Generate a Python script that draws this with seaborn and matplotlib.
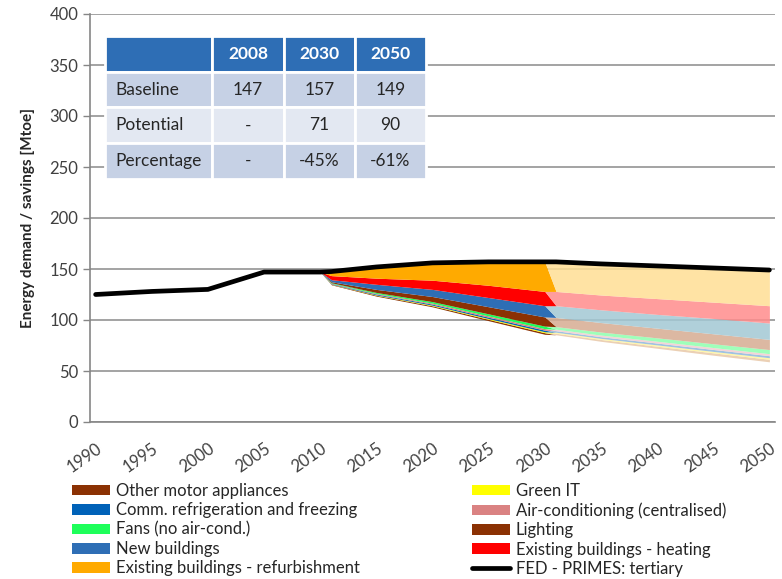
import numpy as np
import pandas as pd
import seaborn as sns
import matplotlib.pyplot as plt
from matplotlib.patches import Patch
from matplotlib.lines import Line2D
from matplotlib.colors import to_rgba

# FED - PRIMES: tertiary [Mtoe]
fed_years = [1990, 1995, 2000, 2005, 2008, 2010, 2011, 2015, 2020, 2025, 2030, 2031, 2035, 2040, 2045, 2050]
fed_values = [125, 128, 130, 147, 147, 147, 147.5, 152, 156, 157, 157, 157, 155, 153, 151, 149]

# savings stack (solid up to 2030, pale from 2031)
stack_years = [2010, 2011, 2015, 2020, 2025, 2030, 2031, 2035, 2040, 2045, 2050]
remaining = [147, 134.5, 123.4, 112.9, 99.3, 86, 85.5, 79.1, 72.3, 65.5, 59]
other_motor = [0, 0.5, 0.8, 1, 1.3, 1.5, 1.5, 1.8, 2, 2.3, 2.5]
green_it = [0, 0.2, 0.4, 0.6, 0.8, 1, 1, 1.1, 1.3, 1.4, 1.5]
comm_refrig = [0, 0.5, 0.8, 1, 1.3, 1.5, 1.5, 1.6, 1.8, 1.9, 2]
air_cond = [0, 0.3, 0.6, 1, 1.3, 1.5, 1.5, 1.6, 1.8, 1.9, 2]
fans = [0, 0.5, 1, 1.5, 2, 2.5, 2.5, 3, 3.3, 3.7, 4]
lighting = [0, 1, 3, 5, 7, 9, 9, 9.3, 9.5, 9.8, 10]
new_buildings = [0, 2, 5, 7, 9, 11, 11.5, 12.5, 13.5, 15, 16]
heating = [0, 4, 6, 9, 12, 14, 14, 14.5, 15.5, 16, 17]
refurbishment = [0, 4, 11, 17, 23, 29, 29, 30.5, 32, 33.5, 35]

# table values
table_years = ['2008', '2030', '2050']
row_labels = ['Baseline', 'Potential', 'Percentage']
baseline_row = ['147', '157', '149']
potential_row = ['-', '71', '90']
percent_row = ['-', '-45%', '-61%']

# name, values, solid colour, pale colour (after 2030)
measures = [
    ('Other motor appliances', other_motor, '#8B3103', '#E8C8A8'),
    ('Green IT', green_it, '#FFFF00', '#FFF59A'),
    ('Comm. refrigeration and freezing', comm_refrig, '#0062B8', '#8FB8DC'),
    ('Air-conditioning (centralised)', air_cond, '#DA8282', '#F2CDD0'),
    ('Fans (no air-cond.)', fans, '#1EFF5A', '#8EFFAE'),
    ('Lighting', lighting, '#8B3103', '#D6AC92'),
    ('New buildings', new_buildings, '#2E6EB5', '#A2C8D4'),
    ('Existing buildings - heating', heating, '#FF0000', '#FF8C8C'),
    ('Existing buildings - refurbishment', refurbishment, '#FFAA00', '#FFDF94'),
]

sns.set_style('white')
plt.rcParams['font.family'] = ['Lato', 'DejaVu Sans']

fig = plt.figure(figsize=(7.82, 5.79), dpi=100)
ax = fig.add_axes([90 / 782, 1 - 422 / 579, 685 / 782, 408 / 579])

yrs = np.array(stack_years)
layers = [remaining]
colors = ['none']
for name, vals, col, pale in measures:
    vals = np.array(vals, dtype=float)
    layers.append(np.where(yrs <= 2030, vals, 0))
    colors.append(to_rgba(col, 1.0))
    layers.append(np.where(yrs >= 2031, vals, 0))
    colors.append(to_rgba(pale, 0.85))
ax.stackplot(yrs, *layers, colors=colors, linewidth=0, zorder=2)

fed = pd.DataFrame({'year': fed_years, 'value': fed_values})
sns.lineplot(data=fed, x='year', y='value', color='black', linewidth=3.4, ax=ax, zorder=4)

grey = '#868686'
ax.set_xlim(1989.5, 2050.5)
ax.set_ylim(0, 400)
ax.set_yticks(range(0, 401, 50))
ax.yaxis.grid(True, color='#8a8a8a', linewidth=1.1)
ax.set_axisbelow(True)
ax.set_xticks(range(1990, 2051, 5))
ax.set_xticks(np.arange(1989.5, 2051, 1), minor=True)
ax.tick_params(axis='x', which='major', length=0, pad=13, labelsize=12, labelcolor='#404040')
ax.tick_params(axis='x', which='minor', length=5, color=grey, width=1, direction='out')
ax.tick_params(axis='y', length=5, color=grey, width=1, direction='out', labelsize=12,
               labelcolor='#404040', left=True)
plt.setp(ax.get_xticklabels(), rotation=35, ha='right', va='top', rotation_mode='anchor')
for s in ['top', 'right']:
    ax.spines[s].set_visible(False)
for s in ['left', 'bottom']:
    ax.spines[s].set_color(grey)
    ax.spines[s].set_linewidth(1.2)
ax.set_xlabel('')
ax.set_ylabel('Energy demand / savings [Mtoe]', fontsize=11, fontweight='bold', labelpad=10)

# summary table
cell_text = [[''] + table_years,
             [row_labels[0]] + baseline_row,
             [row_labels[1]] + potential_row,
             [row_labels[2]] + percent_row]
widths = np.array([107, 72, 71, 71]) / 321
tbl = ax.table(cellText=cell_text, colWidths=list(widths * 0.4686),
               bbox=[0.0219, 0.5956, 0.4686, 0.3505], cellLoc='center')
tbl.auto_set_font_size(False)
tbl.set_zorder(6)
row_fill = ['#2E6EB5', '#C6D1E5', '#E3E8F2', '#C6D1E5']
for (r, c), cell in tbl.get_celld().items():
    cell.set_edgecolor('white')
    cell.set_linewidth(2)
    cell.set_facecolor(row_fill[r])
    txt = cell.get_text()
    txt.set_fontsize(12.5)
    if r == 0:
        txt.set_color('white')
        txt.set_fontweight('bold')
    else:
        txt.set_color('#262626')
    if c == 0:
        cell._loc = 'left'
        txt.set_ha('left')

# legend
order = [0, 2, 4, 6, 8, 1, 3, 5, 7]
handles = [Patch(facecolor=measures[i][2], edgecolor='none') for i in order]
labels = [measures[i][0] for i in order]
handles.append(Line2D([0], [0], color='black', linewidth=3.4))
labels.append('FED - PRIMES: tertiary')
fig.legend(handles, labels, ncol=2, loc='upper left', bbox_to_anchor=(72 / 782, 1 - 483 / 579),
           frameon=False, fontsize=12, handlelength=2.3, handleheight=0.6, handletextpad=0.35,
           labelspacing=0.2, columnspacing=6.7, borderaxespad=0, borderpad=0)

fig.savefig('out.png', dpi=100)
